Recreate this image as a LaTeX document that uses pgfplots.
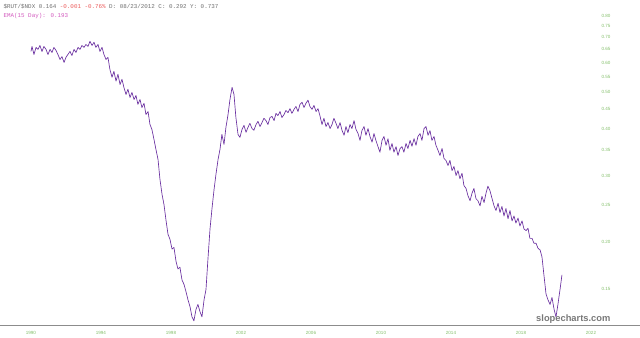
\documentclass[border=0pt]{standalone}
\usepackage{fontspec}
\setmainfont{Liberation Sans}
\newfontfamily\monofont{Liberation Mono}
\usepackage{pgfplots}
\pgfplotsset{compat=1.18}
\definecolor{lineC}{RGB}{106,48,160}
\definecolor{tickG}{RGB}{130,190,105}
\definecolor{hdrG}{RGB}{110,110,110}
\definecolor{hdrR}{RGB}{235,90,90}
\definecolor{emaC}{RGB}{210,90,190}
\definecolor{wmC}{RGB}{120,120,120}
\begin{document}
\begin{tikzpicture}
\begin{axis}[
  scale only axis, width=480pt, height=243.75pt,
  xmin=1988.23, xmax=2024.8,
  ymode=log, ymin=0.1199, ymax=0.88,
  axis x line=bottom, axis y line=right,
  axis line style={-},
  x axis line style={draw=black!45, line width=0.6pt},
  y axis line style={draw=none},
  major tick length=0pt,
  xtick={1990,1994,1998,2002,2006,2010,2014,2018,2022},
  xticklabels={1990,1994,1998,2002,2006,2010,2014,2018,2022},
  xticklabel style={font=\fontsize{3.4}{4}\selectfont, text=tickG, yshift=-1pt},
  ytick={0.15,0.20,0.25,0.30,0.35,0.40,0.45,0.50,0.55,0.60,0.65,0.70,0.75,0.80},
  yticklabels={0.15,0.20,0.25,0.30,0.35,0.40,0.45,0.50,0.55,0.60,0.65,0.70,0.75,0.80},
  yticklabel style={font=\fontsize{3.4}{4}\selectfont, text=tickG, anchor=center, xshift=-25.5pt},
  clip=false,
]
\coordinate (SW) at (rel axis cs:0,0);
\coordinate (NE) at (rel axis cs:1,1);
\addplot[lineC, line width=0.5pt, line join=round] coordinates {
(1990.00,0.642)(1990.06,0.662)(1990.17,0.630)(1990.29,0.658)(1990.40,0.650)(1990.51,0.666)
(1990.63,0.642)(1990.74,0.662)(1990.86,0.650)(1990.97,0.630)(1991.09,0.650)(1991.20,0.638)
(1991.31,0.658)(1991.43,0.646)(1991.54,0.630)(1991.66,0.611)(1991.77,0.622)(1991.89,0.600)
(1992.00,0.619)(1992.11,0.630)(1992.23,0.642)(1992.34,0.626)(1992.46,0.650)(1992.57,0.638)
(1992.69,0.658)(1992.80,0.650)(1992.91,0.666)(1993.03,0.658)(1993.14,0.670)(1993.26,0.662)
(1993.37,0.683)(1993.49,0.666)(1993.60,0.679)(1993.71,0.658)(1993.83,0.670)(1993.94,0.642)
(1994.06,0.658)(1994.17,0.630)(1994.29,0.611)(1994.40,0.619)(1994.51,0.575)(1994.63,0.548)
(1994.74,0.568)(1994.86,0.535)(1994.97,0.558)(1995.09,0.524)(1995.20,0.541)(1995.31,0.515)
(1995.43,0.493)(1995.54,0.509)(1995.66,0.484)(1995.77,0.499)(1995.89,0.478)(1996.00,0.490)
(1996.11,0.464)(1996.23,0.478)(1996.34,0.455)(1996.46,0.467)(1996.57,0.436)(1996.69,0.444)
(1996.80,0.410)(1996.91,0.398)(1997.03,0.374)(1997.14,0.352)(1997.26,0.331)(1997.37,0.293)
(1997.49,0.267)(1997.60,0.251)(1997.71,0.229)(1997.83,0.209)(1997.94,0.203)(1998.06,0.191)
(1998.17,0.193)(1998.29,0.177)(1998.40,0.169)(1998.51,0.171)(1998.63,0.158)(1998.74,0.154)
(1998.86,0.147)(1998.97,0.140)(1999.09,0.134)(1999.20,0.126)(1999.31,0.123)(1999.43,0.132)
(1999.54,0.136)(1999.66,0.130)(1999.77,0.126)(1999.89,0.140)(2000.00,0.149)(2000.11,0.179)
(2000.23,0.216)(2000.34,0.244)(2000.46,0.275)(2000.57,0.302)(2000.69,0.331)(2000.80,0.352)
(2000.91,0.386)(2001.03,0.363)(2001.14,0.403)(2001.26,0.436)(2001.37,0.478)(2001.49,0.515)
(2001.60,0.493)(2001.71,0.428)(2001.83,0.386)(2001.94,0.379)(2002.06,0.398)(2002.17,0.408)
(2002.29,0.391)(2002.40,0.403)(2002.51,0.413)(2002.63,0.400)(2002.74,0.396)(2002.86,0.410)
(2002.97,0.418)(2003.09,0.405)(2003.20,0.415)(2003.31,0.426)(2003.43,0.420)(2003.54,0.410)
(2003.66,0.428)(2003.77,0.431)(2003.89,0.420)(2004.00,0.439)(2004.11,0.433)(2004.23,0.444)
(2004.34,0.428)(2004.46,0.436)(2004.57,0.447)(2004.69,0.441)(2004.80,0.452)(2004.91,0.439)
(2005.03,0.450)(2005.14,0.458)(2005.26,0.444)(2005.37,0.464)(2005.49,0.470)(2005.60,0.455)
(2005.71,0.467)(2005.83,0.476)(2005.94,0.458)(2006.06,0.450)(2006.17,0.461)(2006.29,0.444)
(2006.40,0.452)(2006.51,0.433)(2006.63,0.410)(2006.74,0.426)(2006.86,0.405)(2006.97,0.415)
(2007.09,0.400)(2007.20,0.410)(2007.31,0.426)(2007.43,0.413)(2007.54,0.400)(2007.66,0.415)
(2007.77,0.396)(2007.89,0.384)(2008.00,0.405)(2008.11,0.390)(2008.23,0.410)(2008.34,0.400)
(2008.46,0.420)(2008.57,0.398)(2008.69,0.388)(2008.80,0.372)(2008.91,0.395)(2009.03,0.405)
(2009.14,0.384)(2009.26,0.400)(2009.37,0.381)(2009.49,0.368)(2009.60,0.388)(2009.71,0.372)
(2009.83,0.358)(2009.94,0.346)(2010.06,0.372)(2010.17,0.381)(2010.29,0.361)(2010.40,0.376)
(2010.51,0.350)(2010.63,0.365)(2010.74,0.346)(2010.86,0.358)(2010.97,0.339)(2011.09,0.354)
(2011.20,0.358)(2011.31,0.346)(2011.43,0.365)(2011.54,0.354)(2011.66,0.372)(2011.77,0.359)
(2011.89,0.376)(2012.00,0.361)(2012.11,0.381)(2012.23,0.388)(2012.34,0.372)(2012.46,0.400)
(2012.57,0.405)(2012.69,0.384)(2012.80,0.395)(2012.91,0.372)(2013.03,0.381)(2013.14,0.361)
(2013.26,0.350)(2013.37,0.339)(2013.49,0.354)(2013.60,0.333)(2013.71,0.329)(2013.83,0.319)
(2013.94,0.329)(2014.06,0.309)(2014.17,0.317)(2014.29,0.300)(2014.40,0.309)(2014.51,0.294)
(2014.63,0.304)(2014.74,0.282)(2014.86,0.277)(2014.97,0.265)(2015.09,0.257)(2015.20,0.269)
(2015.31,0.277)(2015.43,0.260)(2015.54,0.257)(2015.66,0.249)(2015.77,0.264)(2015.89,0.254)
(2016.00,0.269)(2016.11,0.281)(2016.23,0.273)(2016.34,0.261)(2016.46,0.249)(2016.57,0.242)
(2016.69,0.253)(2016.80,0.239)(2016.91,0.248)(2017.03,0.234)(2017.14,0.245)(2017.26,0.230)
(2017.37,0.242)(2017.49,0.227)(2017.60,0.234)(2017.71,0.224)(2017.83,0.231)(2017.94,0.220)
(2018.06,0.227)(2018.17,0.216)(2018.29,0.214)(2018.40,0.217)(2018.51,0.204)(2018.63,0.204)
(2018.74,0.198)(2018.86,0.198)(2018.97,0.192)(2019.09,0.190)(2019.20,0.182)(2019.31,0.163)
(2019.43,0.145)(2019.54,0.140)(2019.66,0.136)(2019.77,0.142)(2019.89,0.132)(2020.00,0.126)
(2020.11,0.136)(2020.23,0.149)(2020.34,0.163)
};
\node[anchor=north west, inner sep=0pt, font=\monofont\fontsize{4.4}{5}\selectfont, text=hdrG, align=left]
  at ([xshift=2.5pt,yshift=-3pt]rel axis cs:0,1)
  {\$RUT/\$NDX 0.164 \textcolor{hdrR}{-0.001 -0.76\%} D: 08/23/2012 C: 0.292 Y: 0.737\\[1.6pt]
   \textcolor{emaC}{EMA(15 Day): 0.193}};
\node[anchor=south east, inner sep=0pt, font=\bfseries\fontsize{7}{8}\selectfont, text=wmC]
  at ([xshift=-22pt,yshift=1.2pt]rel axis cs:1,0) {slopecharts.com};
\end{axis}
\pgfresetboundingbox
\path[use as bounding box] ([yshift=-9.75pt]SW) rectangle (NE);
\end{tikzpicture}
\end{document}
